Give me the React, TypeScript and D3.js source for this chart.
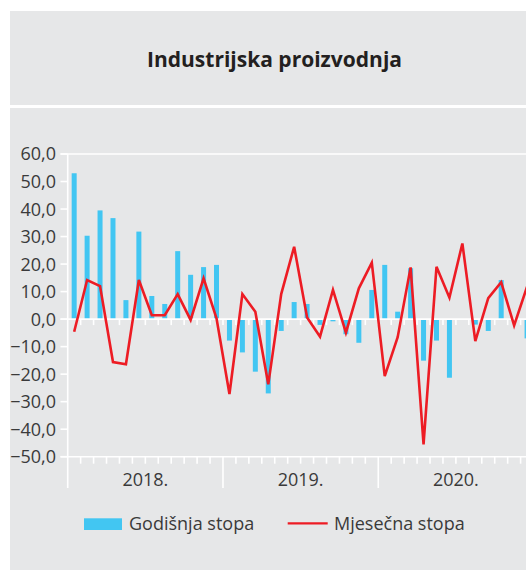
import React from "react";
import * as d3 from "d3";

const years = ["2018.", "2019.", "2020."];
const months = ["I", "II", "III", "IV", "V", "VI", "VII", "VIII", "IX", "X", "XI", "XII"];
const categories = years.flatMap((yr) => months.map((m) => `${m} ${yr}`));

const annualRate = [
  53.0, 30.3, 39.5, 36.7, 6.9, 31.8, 8.4, 5.5, 24.7, 16.1, 18.9, 19.7,
  -7.8, -12.1, -19.1, -27.0, -4.3, 6.2, 5.5, -2.1, -0.8, -5.5, -8.6, 10.6,
  19.7, 2.7, 18.5, -15.1, -7.8, -21.3, -0.3, -2.0, -4.3, 14.2, 0, -7.0,
];
const monthlyRate = [
  -4.6, 14.2, 12.0, -15.6, -16.4, 14.2, 1.4, 1.4, 9.1, -0.3, 14.8, 0.3,
  -27.2, 9.1, 2.7, -23.7, 9.1, 26.3, 0.6, -6.4, 10.6, -4.9, 11.2, 20.5,
  -20.7, -6.6, 18.8, -45.5, 19.0, 7.8, 27.5, -8.0, 7.6, 13.4, -2.3, 11.8,
];
const yTicks = [60, 50, 40, 30, 20, 10, 0, -10, -20, -30, -40, -50];
const title = "Industrijska proizvodnja";
const seriesNames = ["Godišnja stopa", "Mjesečna stopa"];

const W = 526;
const H = 570;
const BG = "#e6e7e8";
const BLUE = "#42c6f2";
const RED = "#ed1c24";
const TXT = "#3a3a3a";
const FONT = "'Open Sans', sans-serif";

export default function App() {
  const xLeft = 67.7;
  const slot = 12.94;
  const x = d3
    .scaleBand<string>()
    .domain(categories)
    .range([xLeft, xLeft + slot * categories.length])
    .padding(0);
  const y = d3.scaleLinear().domain([-50, 60]).range([456.7, 154]);
  const bw = 5;
  const cx = (c: string) => (x(c) as number) + x.bandwidth() / 2;

  const line = d3
    .line<number>()
    .x((_, i) => cx(categories[i]))
    .y((d) => y(d));

  const boundaries = d3.range(1, categories.length + 1).map((i) => xLeft + i * x.bandwidth());
  const y0 = y(0);
  const yBottom = y(-50);

  return (
    <svg
      width={W}
      height={H}
      style={{ position: "absolute", left: 0, top: 0, background: "#fff" }}
      fontFamily={FONT}
    >
      <rect x={10} y={11} width={W} height={94} fill={BG} />
      <rect x={10} y={108} width={W} height={H - 108} fill={BG} />
      <text x={274.5} y={66.7} textAnchor="middle" fontSize={21} fontWeight={700} fill="#231f20">
        {title}
      </text>

      {/* axis frame lines */}
      <line x1={60.5} x2={W} y1={y(60)} y2={y(60)} stroke="#fff" strokeWidth={1.6} />
      <line x1={60.5} x2={W} y1={yBottom} y2={yBottom} stroke="#fff" strokeWidth={1.6} />
      <line x1={xLeft} x2={xLeft} y1={y(60)} y2={488} stroke="#fff" strokeWidth={1.6} />

      {yTicks.map((t) => (
        <g key={t}>
          <line x1={60.5} x2={xLeft} y1={y(t)} y2={y(t)} stroke="#fff" strokeWidth={1.6} />
          <text x={56} y={y(t)} dy="0.36em" textAnchor="end" fontSize={18} fill={TXT}>
            {d3.format(".1f")(t).replace(".", ",").replace("-", "\u2212")}
          </text>
        </g>
      ))}

      {boundaries.map((bx, i) => {
        const isYear = (i + 1) % 12 === 0;
        return (
          <g key={i}>
            <line x1={bx} x2={bx} y1={yBottom} y2={isYear ? 488 : yBottom + 7} stroke="#fff" strokeWidth={1.6} />
            <line x1={bx} x2={bx} y1={y0} y2={y0 + 6} stroke="#fff" strokeWidth={1.6} />
          </g>
        );
      })}

      {annualRate.map((v, i) => (
        <rect
          key={i}
          x={cx(categories[i]) - bw / 2}
          y={Math.min(y(v), y0)}
          width={bw}
          height={Math.abs(y(v) - y0)}
          fill={BLUE}
        />
      ))}

      <line x1={60.5} x2={W} y1={y0} y2={y0} stroke="#fff" strokeWidth={1.6} />

      <path d={line(monthlyRate) as string} fill="none" stroke={RED} strokeWidth={2.6} strokeLinejoin="miter" />

      {years.map((yr, k) => (
        <text
          key={yr}
          x={xLeft + (k * 12 + 6) * x.bandwidth()}
          y={486}
          textAnchor="middle"
          fontSize={18}
          fill={TXT}
        >
          {yr}
        </text>
      ))}

      {/* legend */}
      <rect x={84} y={518.3} width={38} height={11.7} fill={BLUE} />
      <text x={129} y={529.5} fontSize={18} fill={TXT}>
        {seriesNames[0]}
      </text>
      <line x1={287.7} x2={327.7} y1={523.3} y2={523.3} stroke={RED} strokeWidth={2.2} />
      <text x={334} y={529.5} fontSize={18} fill={TXT}>
        {seriesNames[1]}
      </text>
    </svg>
  );
}
